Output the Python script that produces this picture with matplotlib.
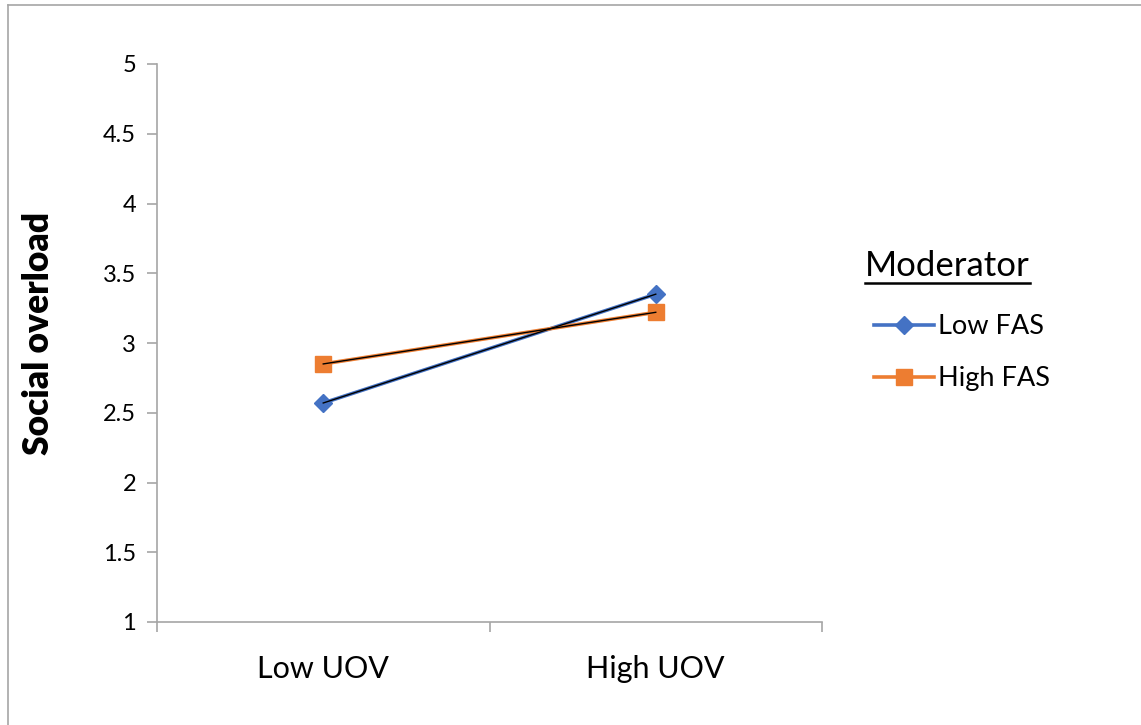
import matplotlib.pyplot as plt
from matplotlib.lines import Line2D
from matplotlib.ticker import FormatStrFormatter

plt.rcParams['font.family'] = ['Lato', 'DejaVu Sans']

categories = ['Low UOV', 'High UOV']
low_fas = [2.57, 3.35]
high_fas = [2.85, 3.22]
series_names = ['Low FAS', 'High FAS']
y_ticks = [1, 1.5, 2, 2.5, 3, 3.5, 4, 4.5, 5]

blue = '#4472C4'
orange = '#ED7D31'
grey = '#A6A6A6'

fig = plt.figure(figsize=(11.41, 7.25), dpi=100)
ax = fig.add_axes([157 / 1141, 103 / 725, 665 / 1141, 558 / 725])

x = [0.5, 1.5]
ax.plot(x, low_fas, color=blue, lw=2.6, marker='D', markersize=9.5, label=series_names[0], zorder=3)
ax.plot(x, high_fas, color=orange, lw=2.6, marker='s', markersize=12, label=series_names[1], zorder=3)
# thin black trend lines on top
ax.plot(x, low_fas, color='black', lw=1.0, zorder=4)
ax.plot(x, high_fas, color='black', lw=1.0, zorder=4)

ax.set_xlim(0, 2)
ax.set_ylim(1, 5)
ax.set_yticks(y_ticks)
ax.yaxis.set_major_formatter(FormatStrFormatter('%g'))
ax.set_xticks([0, 1, 2])
ax.set_xticklabels([])
ax.set_xticks(x, minor=True)
ax.set_xticklabels(categories, minor=True)
ax.tick_params(axis='x', which='minor', length=0, labelsize=22, pad=24)
ax.tick_params(axis='x', which='major', length=7, color=grey, width=1.2)
ax.tick_params(axis='y', length=7, color=grey, width=1.2, labelsize=17, pad=8)

for s in ['top', 'right']:
    ax.spines[s].set_visible(False)
for s in ['left', 'bottom']:
    ax.spines[s].set_color(grey)
    ax.spines[s].set_linewidth(1.2)

ax.set_ylabel('Social overload', fontsize=25.5, fontweight='heavy')
ax.yaxis.set_label_coords(-0.154, 0.518)

leg = ax.legend(loc='upper left', bbox_to_anchor=(850 / 1141, 1 - 290 / 725),
                bbox_transform=fig.transFigure, frameon=False, fontsize=19.5,
                handlelength=2.2, handletextpad=0.15, labelspacing=1.0)

# legend title, underlined
title = fig.text(865 / 1141, 1 - 250 / 725, 'Moderator', fontsize=25, va='top', ha='left')

# outer chart border
fig.add_artist(Line2D([8 / 1141, 8 / 1141], [0, 1 - 5 / 725], color=grey, lw=1.2,
                      transform=fig.transFigure))
fig.add_artist(Line2D([8 / 1141, 1], [1 - 5 / 725, 1 - 5 / 725], color=grey, lw=1.2,
                      transform=fig.transFigure))

fig.canvas.draw()
bb = title.get_window_extent().transformed(fig.transFigure.inverted())
fig.add_artist(Line2D([bb.x0, bb.x1], [bb.y0 - 0.002, bb.y0 - 0.002], color='black', lw=1.8,
                      transform=fig.transFigure))

fig.savefig('out.png', dpi=100)
